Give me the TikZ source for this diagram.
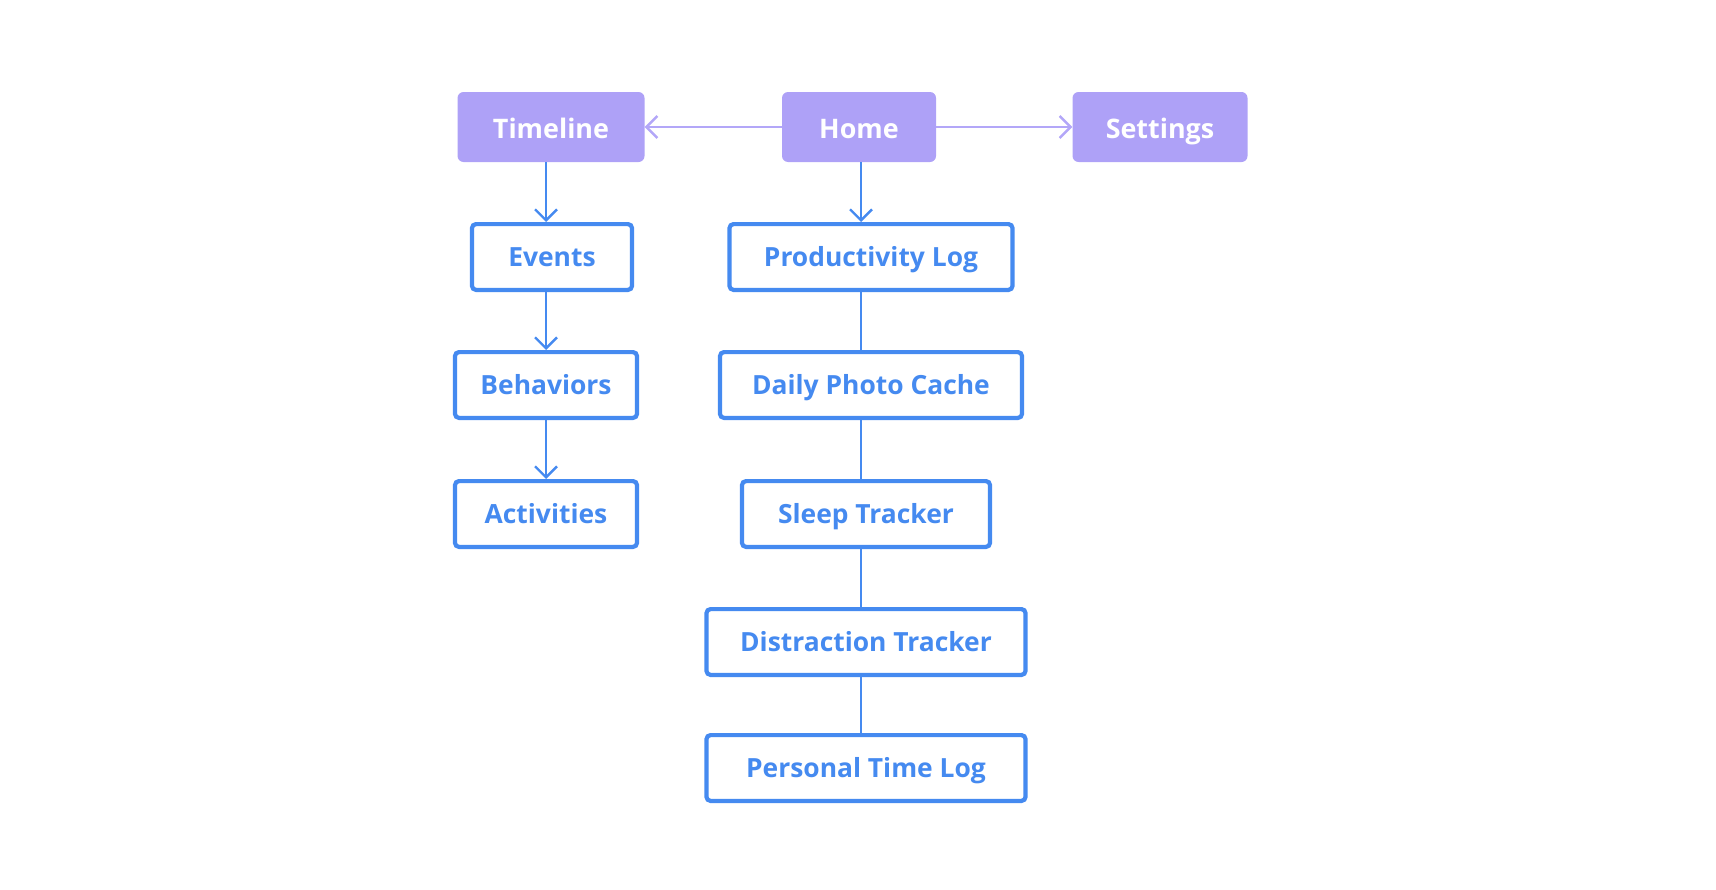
\documentclass[tikz,border=0pt]{standalone}
\usepackage{fontspec}
\setmainfont{Open Sans}
\usetikzlibrary{arrows.meta}
\definecolor{lav}{HTML}{AEA1F7}
\definecolor{lavline}{HTML}{B3A7F8}
\definecolor{blu}{HTML}{458AF0}
\begin{document}
\begin{tikzpicture}[x=1bp, y=-1bp,
    topbox/.style={fill=lav, rounded corners=6bp, minimum height=70bp,
      inner sep=0pt, text height=22bp, text depth=0pt, text=white,
      font=\fontsize{27}{30}\selectfont\bfseries},
    subbox/.style={draw=blu, line width=4.2bp, fill=white, rounded corners=4bp,
      minimum height=65.8bp, inner sep=0pt, text height=19.5bp, text depth=0pt,
      text=blu, font=\fontsize{26.5}{30}\selectfont\bfseries},
    toparrow/.style={draw=lavline, line width=2.4bp,
      -{Straight Barb[length=11bp, width=22bp, line width=2.4bp]}},
    subarrow/.style={draw=blu, line width=2.4bp,
      -{Straight Barb[length=11bp, width=22bp, line width=2.4bp]}},
    subline/.style={draw=blu, line width=2.4bp}]
  \useasboundingbox (0,0) rectangle (1716,889);
      %%top row
      \node[topbox, minimum width=187bp] (timeline) at (551, 127) {Timeline};
      \node[topbox, minimum width=154bp] (home) at (859, 127) {Home};
      \node[topbox, minimum width=175bp] (settings) at (1160, 127) {Settings};
      \draw[toparrow] (home) to (timeline);
      \draw[toparrow] (home) to (settings);
        %%left column
        \node[subbox, minimum width=160bp] (events) at (552, 257) {Events};
        \node[subbox, minimum width=182bp] (behaviors) at (546, 385) {Behaviors};
        \node[subbox, minimum width=182bp] (activities) at (546, 514) {Activities};
        \draw[subarrow] (timeline.south -| behaviors) to (events.north -| behaviors);
        \draw[subarrow] (events.south -| behaviors) to (behaviors.north);
        \draw[subarrow] (behaviors.south) to (activities.north);
        %%right column
        \node[subbox, minimum width=283bp] (prodlog) at (871, 257) {Productivity Log};
        \node[subbox, minimum width=302bp] (photocache) at (871, 385) {Daily Photo Cache};
        \node[subbox, minimum width=248bp] (sleep) at (866, 514) {Sleep Tracker};
        \node[subbox, minimum width=319bp] (distraction) at (866, 642) {Distraction Tracker};
        \node[subbox, minimum width=319bp] (timelog) at (866, 768) {Personal Time Log};
        \coordinate (spine) at (861, 0);
        \draw[subarrow] (home.south -| spine) to (prodlog.north -| spine);
        \draw[subline] (prodlog.south -| spine) to (photocache.north -| spine);
        \draw[subline] (photocache.south -| spine) to (sleep.north -| spine);
        \draw[subline] (sleep.south -| spine) to (distraction.north -| spine);
        \draw[subline] (distraction.south -| spine) to (timelog.north -| spine);
\end{tikzpicture}
\end{document}
